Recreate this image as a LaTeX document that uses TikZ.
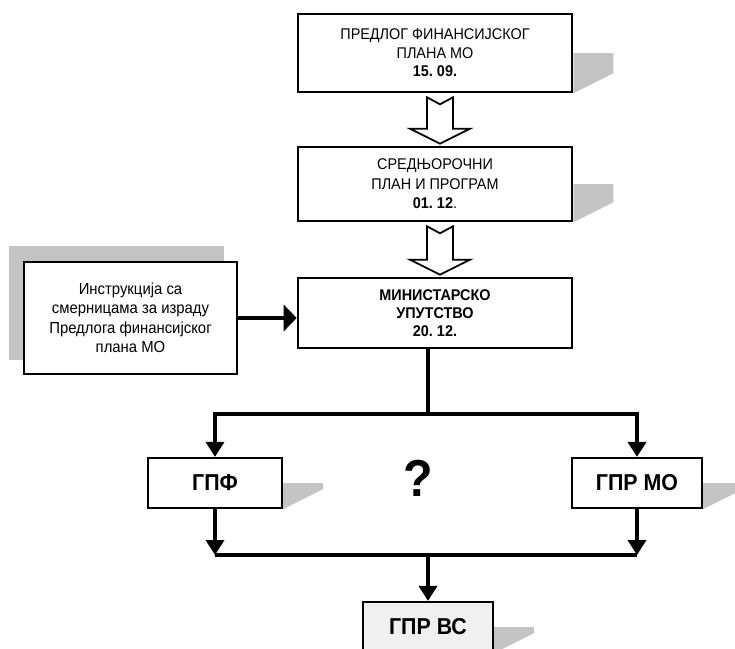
\documentclass[tikz,border=0pt]{standalone}
\usepackage{fontspec}
\setmainfont[FakeStretch=0.93]{Liberation Sans}
\usetikzlibrary{arrows.meta, calc, backgrounds}
\definecolor{shadowgray}{RGB}{196, 196, 196}
\definecolor{lightfill}{RGB}{240, 240, 240}
\frenchspacing

\tikzset{
  stagebox/.style={draw, rectangle, line width=2.6pt, fill=white, align=center, inner sep=2pt},
  smallbox/.style={draw, rectangle, line width=2.2pt, fill=white, align=center,
    minimum width=130pt, minimum height=50pt, font={\bfseries\fontsize{23}{26}\selectfont}},
  blockarrow/.style={draw, line width=1.8pt, fill=white, line join=miter},
  treeline/.style={line width=3.6pt},
  treearrow/.style={treeline, -{Triangle[length=15pt, width=18pt]}}
}

% gray wedge to the right of a box
\newcommand{\boxshadow}[1]{%
  \fill[shadowgray] (#1.east) -- ++(40,0) -- ($(#1.south east)+(40,-20)$) -- (#1.south east) -- cycle;}
% hollow arrow with notched tail
\newcommand{\hollowarrow}[2]{%
  \draw[blockarrow] let \p1=(#1), \p2=(#2) in
    (\x1-13pt,\y1) -- (\x1,\y1-7pt) -- (\x1+13pt,\y1) -- (\x1+13pt,\y2+15pt)
    -- (\x1+30pt,\y2+15pt) -- (\x1,\y2) -- (\x1-30pt,\y2+15pt)
    -- (\x1-13pt,\y2+15pt) -- cycle;}

\begin{document}
\begin{tikzpicture}[x=1pt, y=-1pt]
    \useasboundingbox (0,0) rectangle (735,648);

    \node[stagebox, minimum width=274pt, minimum height=78pt, font={\fontsize{15.5}{18.5}\selectfont}] (plan) at (435,53) {ПРЕДЛОГ ФИНАНСИЈСКОГ\\ПЛАНА МО\\\textbf{15. 09.}};
    \node[stagebox, minimum width=274pt, minimum height=74pt, font={\fontsize{15.5}{19.5}\selectfont}] (srednj) at (435,184) {СРЕДЊОРОЧНИ\\ПЛАН И ПРОГРАМ\\\textbf{01. 12}.};
    \node[stagebox, minimum width=274pt, minimum height=70pt, font={\bfseries\fontsize{15.5}{18}\selectfont}] (ministar) at (435,313) {МИНИСТАРСКО\\УПУТСТВО\\20. 12.};
    \node[stagebox, minimum width=213pt, minimum height=112pt, font={\fontsize{16}{19.5}\selectfont}] (instr) at (130.5,318) {Инструкција са\\смерницама за израду\\Предлога финансијског\\плана МО};

    \node[smallbox, minimum width=134pt] (gpf) at (215,483) {ГПФ};
    \node[smallbox] (gprmo) at (637,483) {ГПР МО};
    \node[smallbox, fill=lightfill] (gprvs) at (428,627) {ГПР ВС};
    \node[font={\bfseries\fontsize{52}{52}\selectfont}] (query) at (418,478) {?};

    \begin{scope}[on background layer]
        \fill[shadowgray] ($(instr.south west)+(-14,-15)$) rectangle ($(instr.north east)+(-14,-15)$);
    \end{scope}
    \boxshadow{plan}
    \boxshadow{srednj}
    \boxshadow{gpf}
    \boxshadow{gprmo}
    \boxshadow{gprvs}

    \hollowarrow{$(plan.south)+(5,4)$}{$(srednj.north)+(5,-2)$}
    \hollowarrow{$(srednj.south)+(5,4)$}{$(ministar.north)+(5,-2)$}

    \draw[treeline, -{Triangle[length=13pt, width=26pt]}] (instr.east) -- (instr.east -| ministar.west);

    \coordinate (split) at (428,414);
    \coordinate (join) at (428,555);
    \draw[treeline] (split |- ministar.south) -- (split);
    \draw[treearrow] (split) -| (gpf.north);
    \draw[treearrow] (split) -| (gprmo.north);
    \draw[treearrow] (gpf.south) -- (gpf.south |- join);
    \draw[treearrow] (gprmo.south) -- (gprmo.south |- join);
    \draw[treeline] (gpf.south |- join) -- (gprmo.south |- join);
    \draw[treearrow] (join) -- (gprvs.north);
\end{tikzpicture}
\end{document}
